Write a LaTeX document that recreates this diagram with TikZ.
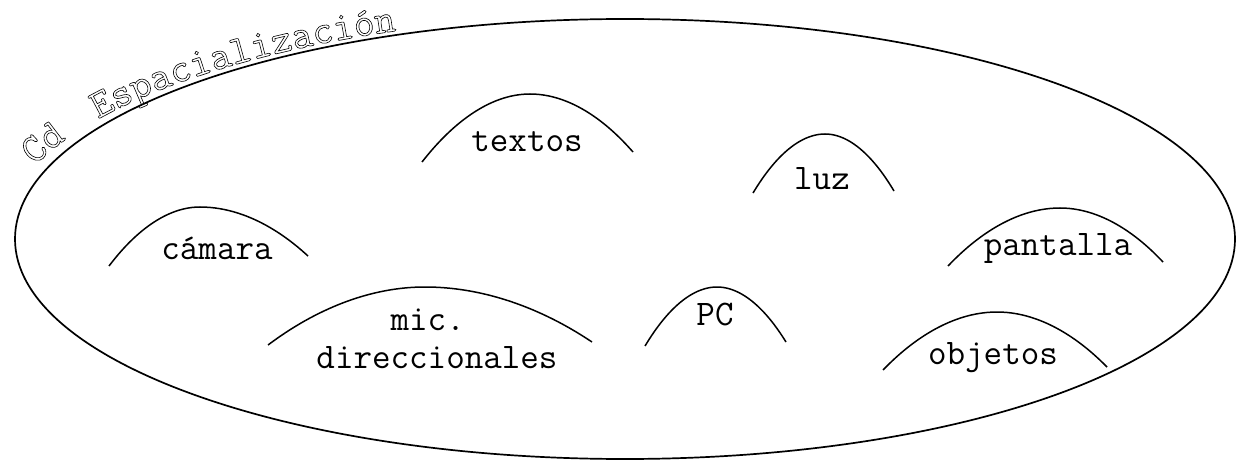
\documentclass[tikz,border=0pt]{standalone}
\usepackage{fontspec}
\usetikzlibrary{decorations.text}
\begin{document}
\begin{tikzpicture}[x=1pt,y=1pt,
  lbl/.style={inner sep=0pt, font=\ttfamily\fontsize{36}{38}\selectfont, align=center},
  hump/.style={line width=1.5pt},
  outer/.style={line width=1.7pt}]
\useasboundingbox (0,0) rectangle (1236,461);
% outer ellipse
\coordinate (c) at (625,222);
\draw[outer] (c) ellipse [x radius=610, y radius=220];
% title along a path just outside the ellipse
\coordinate (tc) at (640,222);
\path[decorate, decoration={text along path, text align=left,
   text={|\ttfamily\fontsize{40.5}{42}\selectfont\special{pdf:literal direct 1 Tr 0.6 w}|Cd {\hspace{0.4em}}Espacialización}}]
   (tc) ++(161:640 and 225) arc[start angle=161, end angle=92, x radius=640, y radius=225];
% humps
\draw[hump] (109,195) parabola bend (200,254) (308,205);
\draw[hump] (422,299) parabola bend (530,367) (633,309);
\draw[hump] (753,268) parabola bend (825,327) (894,270);
\draw[hump] (948,195) parabola bend (1060,253) (1163,199);
\draw[hump] (883,91) parabola bend (997,149) (1107,94);
\draw[hump] (268,116) parabola bend (425,174) (592,119);
\draw[hump] (645,115) parabola bend (717,174) (786,119);
% labels
\node[lbl] (camara) at (217,213) {cámara};
\node[lbl] (textos) at (527,319) {textos};
\node[lbl] (luz) at (822,282) {luz};
\node[lbl] (pantalla) at (1058,213) {pantalla};
\node[lbl] (objetos) at (993,103) {objetos};
\node[lbl] (mic) at (437,122) {mic.\phantom{x}\\direccionales};
\node[lbl] (pc) at (715,146) {PC};
\end{tikzpicture}
\end{document}
